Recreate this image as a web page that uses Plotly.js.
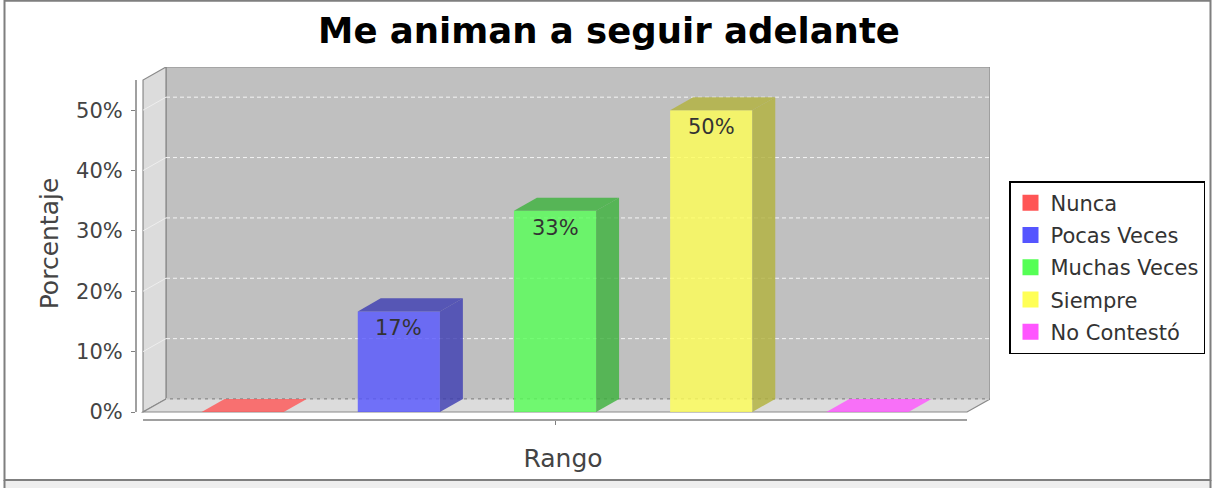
<!DOCTYPE html>
<html>
<head>
<meta charset="utf-8">
<script src="https://cdn.plot.ly/plotly-3.0.1.min.js"></script>
<style>
  html, body { margin: 0; padding: 0; background: #ffffff; }
  #chart { width: 1212px; height: 488px; }
</style>
</head>
<body>
<div id="chart"></div>
<script>
// ---------------- data ----------------
const chartTitle = 'Me animan a seguir adelante';
const categories = ['Nunca', 'Pocas Veces', 'Muchas Veces', 'Siempre', 'No Contestó'];
const percentValues = [0, 16.67, 33.33, 50, 0];
const yTickValues = [0, 10, 20, 30, 40, 50];
const yTickLabels = ['0%', '10%', '20%', '30%', '40%', '50%'];
const xAxisLabel = 'Rango';
const yAxisLabel = 'Porcentaje';

// ---------------- style ----------------
const baseColors = [[255, 85, 85], [85, 85, 255], [85, 255, 85], [255, 255, 85], [255, 85, 255]];
const ALPHA = 0.8;
const FONT = 'DejaVu Sans, Verdana, sans-serif';

// figure geometry (pixels)
const W = 1212, H = 488;
const M = { l: 136, r: 222, t: 67, b: 68, autoexpand: false };
const PW = W - M.l - M.r, PH = H - M.t - M.b;

// 3D frame in data units
const yTop = 55;
const dX = 0.147, dY = 2.154;       // depth offset
const xLo = -0.638, xHi = 4.638;    // front face extent
const barW = 0.526;
const xRange = [xLo - 0.045, xHi + dX];
const yRange = [-1.325, yTop + dY];

const rgba = (c, f, a) => `rgba(${Math.floor(c[0] * f)},${Math.floor(c[1] * f)},${Math.floor(c[2] * f)},${a})`;
const px = x => (x - M.l) / PW;           // pixel -> paper x
const py = y => (H - M.b - y) / PH;       // pixel -> paper y

const traces = [];

// front faces (bars)
categories.forEach((name, i) => {
  traces.push({
    type: 'bar', x: [i], y: [percentValues[i]], width: barW,
    marker: { color: rgba(baseColors[i], 1, ALPHA), line: { width: 0 } },
    showlegend: false, hoverinfo: 'skip', name: name
  });
});

// top and side faces
categories.forEach((name, i) => {
  const v = percentValues[i];
  const x0 = i - barW / 2, x1 = i + barW / 2;
  if (v > 0) {
    traces.push({
      type: 'scatter', mode: 'none', fill: 'toself',
      x: [x1, x1 + dX, x1 + dX, x1, x1], y: [0, dY, v + dY, v, 0],
      fillcolor: rgba(baseColors[i], 0.7, ALPHA), showlegend: false, hoverinfo: 'skip'
    });
  }
  traces.push({
    type: 'scatter', mode: 'none', fill: 'toself',
    x: [x0, x1, x1 + dX, x0 + dX, x0], y: [v, v, v + dY, v + dY, v],
    fillcolor: v > 0 ? rgba(baseColors[i], 0.7, ALPHA) : rgba(baseColors[i], 1, ALPHA),
    showlegend: false, hoverinfo: 'skip'
  });
});

// legend entries
categories.forEach((name, i) => {
  traces.push({
    type: 'scatter', mode: 'markers', x: [null], y: [null], name: name,
    legendgroup: 'g' + i,
    marker: { symbol: 'square', size: 16, color: rgba(baseColors[i], 1, 1) },
    hoverinfo: 'skip'
  });
});

// ---------------- decorations ----------------
const shapes = [];
const frameLine = { color: '#8a8a8a', width: 1.2 };
// outer border and bottom strip
shapes.push({ type: 'rect', xref: 'paper', yref: 'paper', x0: px(4.5), x1: px(1210.5), y0: py(480), y1: py(488),
  fillcolor: '#eeeeee', line: { width: 0 }, layer: 'below' });
shapes.push({ type: 'rect', xref: 'paper', yref: 'paper', x0: px(4.5), x1: px(1210.5), y0: py(480), y1: py(0.8),
  fillcolor: 'rgba(0,0,0,0)', line: { color: '#7f7f7f', width: 2 }, layer: 'below' });
shapes.push({ type: 'line', xref: 'paper', yref: 'paper', x0: px(4.5), x1: px(4.5), y0: py(480), y1: py(488),
  line: { color: '#7f7f7f', width: 2 }, layer: 'below' });
shapes.push({ type: 'line', xref: 'paper', yref: 'paper', x0: px(1210.5), x1: px(1210.5), y0: py(480), y1: py(488),
  line: { color: '#7f7f7f', width: 2 }, layer: 'below' });
// back wall
shapes.push({ type: 'rect', xref: 'x', yref: 'y', x0: xLo + dX, x1: xHi + dX, y0: dY, y1: yTop + dY,
  fillcolor: '#c0c0c0', line: frameLine, layer: 'below' });
// left wall
shapes.push({ type: 'path', xref: 'x', yref: 'y',
  path: `M${xLo},0 L${xLo},${yTop} L${xLo + dX},${yTop + dY} L${xLo + dX},${dY} Z`,
  fillcolor: '#dcdcdc', line: frameLine, layer: 'below' });
// floor
shapes.push({ type: 'path', xref: 'x', yref: 'y',
  path: `M${xLo},0 L${xHi},0 L${xHi + dX},${dY} L${xLo + dX},${dY} Z`,
  fillcolor: '#dcdcdc', line: frameLine, layer: 'below' });
// gridlines on back wall and left wall
yTickValues.forEach(t => {
  shapes.push({ type: 'line', xref: 'x', yref: 'y', x0: xLo + dX, x1: xHi + dX, y0: t + dY, y1: t + dY,
    line: { color: '#f4f4f4', width: 1, dash: '4px,3px' }, layer: 'below' });
  if (t > 0) {
    shapes.push({ type: 'line', xref: 'x', yref: 'y', x0: xLo, x1: xLo + dX, y0: t, y1: t + dY,
      line: { color: '#eeeeee', width: 1 }, layer: 'below' });
  }
});
// axis lines
shapes.push({ type: 'line', xref: 'paper', yref: 'y', x0: 0, x1: 0, y0: 0, y1: yTop,
  line: { color: '#808080', width: 1.5 } });
shapes.push({ type: 'line', xref: 'x', yref: 'paper', x0: xLo, x1: xHi, y0: 0, y1: 0,
  line: { color: '#808080', width: 1.5 } });

// value labels inside bars
const annotations = [];
categories.forEach((name, i) => {
  const v = percentValues[i];
  if (v > 0) {
    annotations.push({ x: i, y: v, xref: 'x', yref: 'y', text: Math.round(v) + '%', showarrow: false,
      yshift: -17, font: { family: FONT, size: 21, color: '#333333' } });
  }
});

const layout = {
  width: W, height: H,
  margin: M,
  paper_bgcolor: '#ffffff', plot_bgcolor: 'rgba(0,0,0,0)',
  barmode: 'overlay',
  title: { text: chartTitle, x: 609 / W, xref: 'container', xanchor: 'center', y: 1 - 31 / H, yref: 'container', yanchor: 'middle',
    font: { family: FONT, size: 35.5, weight: 'bold', color: '#000000' } },
  xaxis: { range: xRange, showgrid: false, zeroline: false, showline: false, automargin: false,
    tickvals: [2], ticktext: [''], showticklabels: false, ticks: 'outside', ticklen: 4, tickcolor: '#808080', tickwidth: 1,
    title: { text: xAxisLabel, standoff: 25, font: { family: FONT, size: 25, color: '#444444' } }, fixedrange: true },
  yaxis: { range: yRange, showgrid: false, zeroline: false, showline: false, automargin: false,
    tickmode: 'array', tickvals: yTickValues, ticktext: yTickLabels, ticks: 'outside', ticklen: 4, tickcolor: '#808080', tickwidth: 1,
    ticklabelstandoff: 4,
    tickfont: { family: FONT, size: 21, color: '#444444' },
    title: { text: yAxisLabel, standoff: 10, font: { family: FONT, size: 25, color: '#444444' } }, fixedrange: true },
  legend: { x: px(1009), y: py(181), xanchor: 'left', yanchor: 'top', xref: 'paper', yref: 'paper',
    bgcolor: '#ffffff', bordercolor: '#000000', borderwidth: 1.5, tracegroupgap: 2,
    font: { family: FONT, size: 21, color: '#333333' } },
  shapes: shapes,
  annotations: annotations,
  showlegend: true,
  hovermode: false
};

Plotly.newPlot('chart', traces, layout, { staticPlot: true, displayModeBar: false });
</script>
</body>
</html>
